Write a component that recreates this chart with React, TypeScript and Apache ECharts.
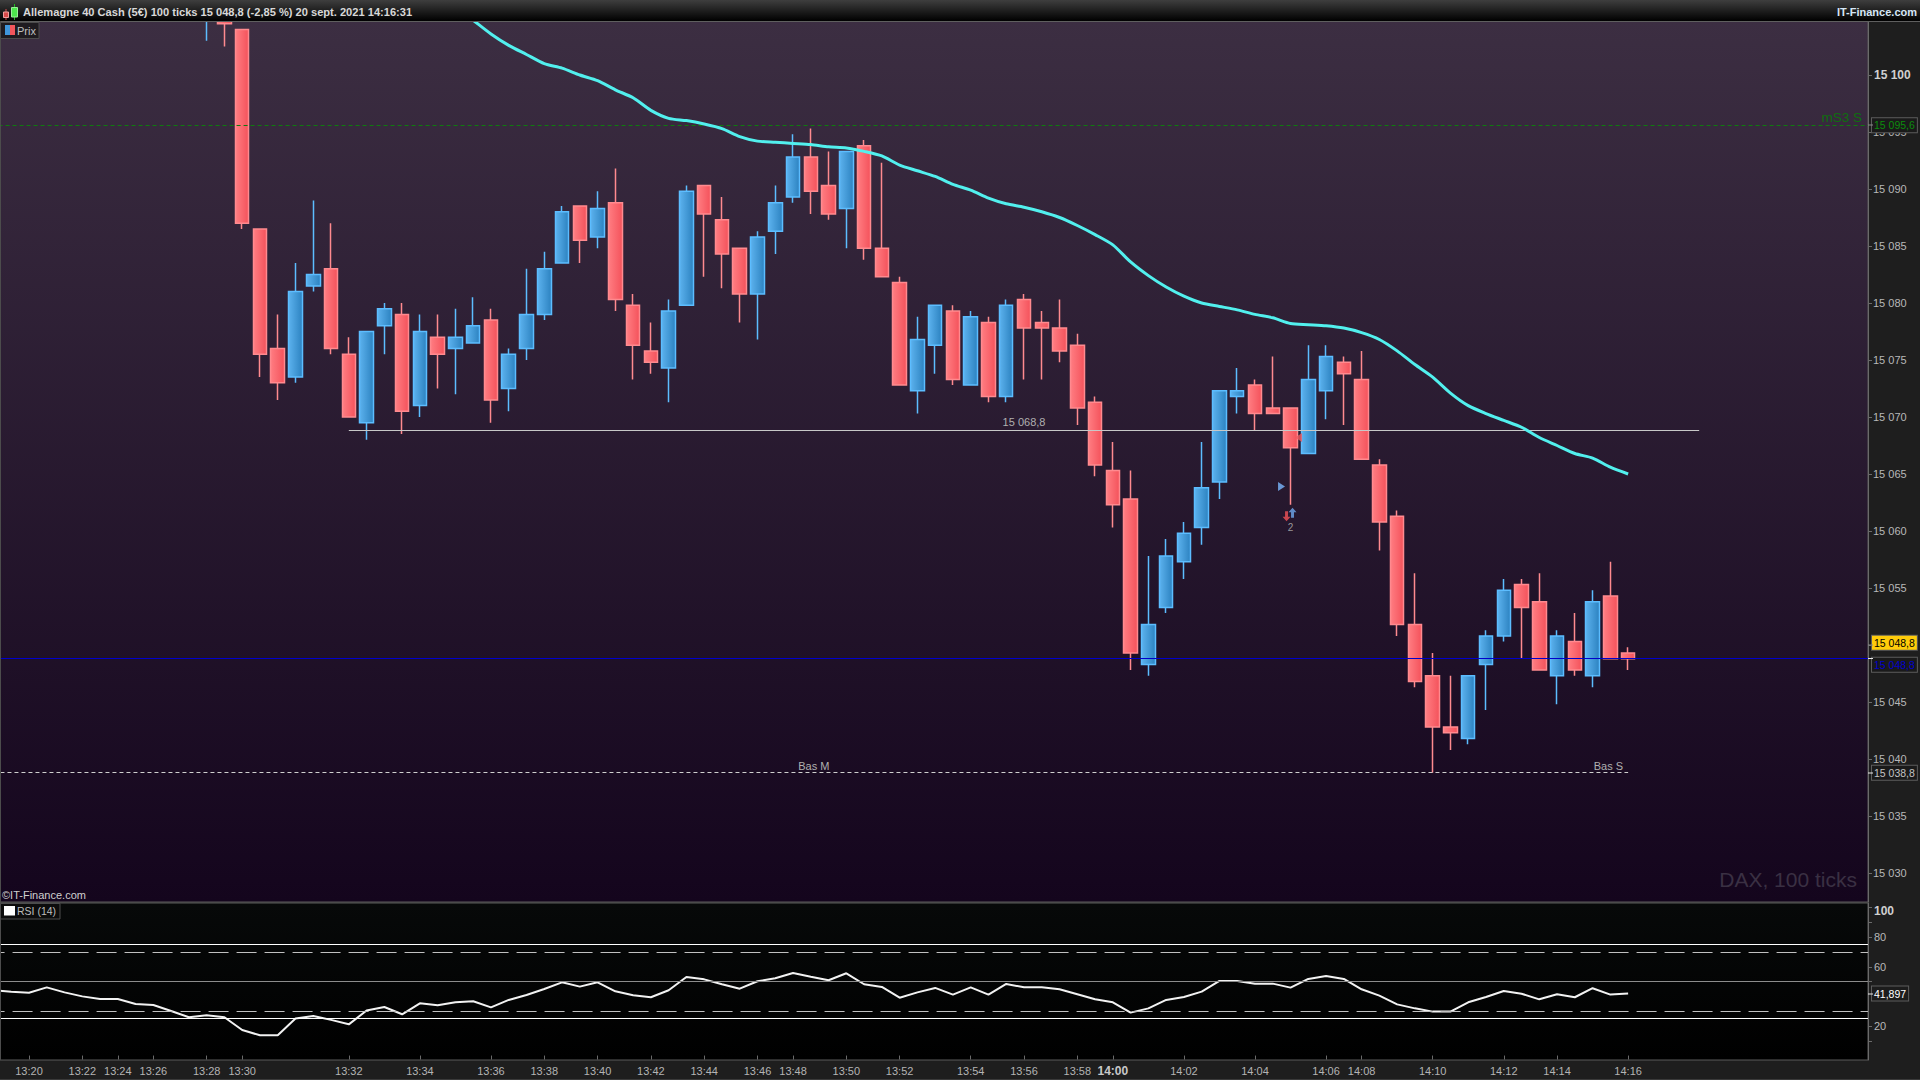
import React, { useEffect, useRef } from "react";
import * as echarts from "echarts";

const FONT = '"Liberation Sans", Arial, sans-serif';
const CATEGORY_COUNT = 106;
const FIRST_CANDLE_SLOT = 12;
const CLEAR = "rgba(0,0,0,0)";

const tickSlots = [2, 5, 7, 9, 12, 14, 20, 24, 28, 31, 34, 37, 40, 43, 45, 48, 51, 55, 58, 61, 63, 67, 71, 75, 77, 81, 85, 88, 92];
const tickLabels = ["13:20", "13:22", "13:24", "13:26", "13:28", "13:30", "13:32", "13:34", "13:36", "13:38", "13:40", "13:42", "13:44", "13:46", "13:48", "13:50", "13:52", "13:54", "13:56", "13:58", "14:00", "14:02", "14:04", "14:06", "14:08", "14:10", "14:12", "14:14", "14:16"];

const opens = [15105.5, 15105.5, 15104, 15086.5, 15076, 15073.5, 15081.5, 15083, 15075.5, 15069.5, 15078, 15079, 15071, 15077, 15076, 15076.5, 15078.5, 15072.5, 15076, 15079, 15083.5, 15088.5,
  15085.8, 15088.8, 15079.8, 15075.8, 15074.3, 15079.8, 15090.3, 15087.3, 15084.8, 15080.8, 15086.3, 15089.3, 15092.8, 15090.3, 15088.3, 15093.8, 15084.8, 15081.8, 15072.3, 15076.3, 15079.3, 15072.8, 15078.3, 15071.8, 15080.3, 15078.3, 15077.8, 15076.3, 15071.3, 15065.3, 15062.8, 15048.3, 15053.3, 15057.3, 15060.3, 15064.3, 15071.8, 15072.8, 15070.8, 15070.8, 15066.8, 15072.3, 15074.8, 15073.3, 15065.8, 15061.3, 15051.8, 15047.3, 15042.8, 15041.8, 15048.3, 15050.8, 15055.3, 15053.8, 15047.3, 15050.3, 15047.3, 15054.3, 15049.3];
const closes = [15106.5, 15104.5, 15087, 15075.5, 15073, 15081, 15082.5, 15076, 15070, 15077.5, 15079.5, 15070.5, 15077.5, 15075.5, 15077, 15078, 15071.5, 15075.5, 15079, 15083, 15088, 15085.5,
  15088.3, 15080.3, 15076.3, 15074.8, 15079.3, 15089.8, 15087.8, 15084.3, 15080.8, 15085.8, 15088.8, 15092.8, 15089.8, 15087.8, 15093.3, 15084.8, 15082.3, 15072.8, 15076.8, 15079.8, 15073.3, 15078.8, 15071.8, 15079.8, 15077.8, 15077.8, 15075.8, 15070.8, 15065.8, 15062.3, 15049.3, 15051.8, 15057.8, 15059.8, 15063.8, 15072.3, 15072.3, 15070.3, 15070.3, 15067.3, 15073.3, 15075.3, 15073.8, 15066.3, 15060.8, 15051.8, 15046.8, 15042.8, 15042.3, 15047.3, 15050.8, 15054.8, 15053.3, 15047.8, 15050.8, 15047.8, 15053.8, 15048.8, 15048.8];
const lows = [15103, 15102.5, 15086.5, 15073.5, 15071.5, 15073, 15081, 15075.5, 15070, 15068, 15075.5, 15068.5, 15070, 15072.5, 15072, 15076.5, 15069.5, 15070.5, 15075, 15078.5, 15083.5, 15083.5,
  15084.8, 15079.3, 15073.3, 15073.8, 15071.3, 15079.8, 15082.3, 15081.3, 15078.3, 15076.8, 15084.3, 15088.8, 15087.8, 15087.3, 15084.8, 15083.8, 15082.3, 15072.8, 15070.3, 15073.8, 15072.8, 15072.8, 15071.3, 15071.3, 15073.3, 15073.3, 15074.8, 15069.3, 15064.8, 15060.3, 15047.8, 15047.3, 15052.8, 15055.8, 15058.8, 15062.8, 15070.3, 15068.8, 15070.3, 15062.3, 15066.8, 15069.8, 15069.3, 15066.3, 15058.3, 15050.8, 15046.3, 15038.8, 15040.8, 15041.3, 15044.3, 15050.3, 15048.8, 15047.8, 15044.8, 15047.3, 15046.3, 15048.8, 15047.8];
const highs = [15107, 15106, 15104, 15086.5, 15079, 15083.5, 15089, 15087, 15077, 15077.5, 15080, 15080, 15079, 15079, 15079.5, 15080.5, 15079.5, 15076, 15083, 15084.5, 15088.5, 15088.5,
  15089.8, 15091.8, 15080.8, 15078.3, 15080.3, 15090.3, 15090.3, 15089.3, 15084.8, 15086.3, 15090.3, 15094.8, 15095.3, 15093.3, 15093.3, 15094.3, 15092.3, 15082.3, 15078.8, 15079.8, 15079.8, 15079.3, 15078.8, 15080.3, 15080.8, 15079.3, 15080.3, 15077.3, 15071.8, 15067.8, 15065.3, 15057.8, 15059.3, 15060.8, 15067.8, 15072.3, 15074.3, 15073.3, 15075.3, 15070.8, 15076.3, 15076.3, 15075.3, 15075.8, 15066.3, 15061.8, 15056.3, 15049.3, 15047.3, 15047.3, 15051.3, 15055.8, 15055.8, 15056.3, 15051.3, 15052.8, 15054.8, 15057.3, 15049.8];

const MA_FIRST_SLOT = 26;
const movingAverage = [15106, 15104.8, 15103.6, 15102.6, 15101.8, 15101, 15100.6, 15100, 15099.5, 15098.7, 15098, 15096.9, 15096.2, 15096, 15095.7, 15095.3, 15094.6, 15094.2, 15094.1, 15094, 15093.9, 15093.7, 15093.6, 15093.3, 15092.9, 15092.1, 15091.6, 15091.1, 15090.4, 15089.9, 15089.2, 15088.7, 15088.4, 15088, 15087.5, 15086.8, 15086, 15085.1, 15083.6, 15082.4, 15081.4, 15080.6, 15080, 15079.7, 15079.4, 15079, 15078.7, 15078.2, 15078.1, 15078, 15077.8, 15077.4, 15076.8, 15075.8, 15074.6, 15073.5, 15072.1, 15071, 15070.3, 15069.7, 15069.1, 15068.2, 15067.5, 15066.8, 15066.4, 15065.6, 15065];

const rsiValues = [44.1, 43.2, 42.5, 46.1, 42.7, 40, 38.2, 38.2, 34.9, 34.2, 30.1, 25.9, 27.2, 25.9, 17.3, 13.7, 13.7, 25, 26.8, 24.1, 21.1, 30.4, 32.8, 27.9, 35.3, 34, 36, 36.7, 32.6, 37.6, 40.9, 45, 49.5, 46.6, 49.5, 43.4, 40.7, 39.4, 44.1, 53.1, 51.5, 48.2, 45.2, 50.2, 52.2, 55.8, 53.3, 50.9, 55.6, 48.2, 46.4, 39.1, 42.7, 45.7, 41.2, 46.1, 41.2, 48.4, 46.1, 46.1, 44.8, 41.4, 38, 36, 29, 31.9, 37.6, 39.6, 43.2, 50.4, 50.4, 48.6, 48.6, 45.9, 51.8, 53.8, 51.8, 44.8, 40.5, 34.6, 31.9, 29.7, 29.7, 36, 39.6, 43.6, 41.8, 38, 41.4, 39.4, 45.5, 41.2, 41.9];

const priceTicks = [15100, 15095, 15090, 15085, 15080, 15075, 15070, 15065, 15060, 15055, 15050, 15045, 15040, 15035, 15030];
const priceLabels = [15100, 15095, 15090, 15085, 15080, 15075, 15070, 15065, 15060, 15055, 15045, 15040, 15035, 15030];
const rsiLabelTicks = [100, 80, 60, 20];
const rsiMarkTicks = [100, 90, 80, 60, 50, 20, 10];

const frPrice = (v: number) => { const s = v.toFixed(0); return s.slice(0, 2) + " " + s.slice(2); };

function pad(first: number, values: any[], blank: any) {
  const out: any[] = [];
  for (let i = 0; i < CATEGORY_COUNT; i++) {
    const j = i - first;
    out.push(j >= 0 && j < values.length ? values[j] : blank);
  }
  return out;
}

function boxLabel(text: string, color: string, bg: string, offset: number[] = [0, 0]) {
  return {
    show: true, position: "end", distance: 4, formatter: text, color, fontFamily: FONT, fontSize: 10.5,
    backgroundColor: bg, borderColor: "#5c5c5c", borderWidth: 1, padding: [2, 2, 1, 2], offset,
  };
}

const hGrad = (a: string, b: string) => new echarts.graphic.LinearGradient(0, 0, 1, 0, [{ offset: 0, color: a }, { offset: 1, color: b }]);
const vGrad = (a: string, b: string) => new echarts.graphic.LinearGradient(0, 0, 0, 1, [{ offset: 0, color: a }, { offset: 1, color: b }]);

function text(x: number, y: number, str: string, fill: string, size: number, extra: any = {}) {
  return {
    type: "text", x, y, silent: true, z: 20,
    style: { text: str, fill, fontFamily: FONT, fontSize: size, verticalAlign: "middle", ...extra },
  };
}
function rect(x: number, y: number, w: number, h: number, fill: any, stroke?: string) {
  return { type: "rect", silent: true, z: 19, shape: { x, y, width: w, height: h }, style: { fill, stroke: stroke || undefined, lineWidth: 1 } };
}
function tick(y: number, color: string) {
  return { type: "line", silent: true, z: 19, shape: { x1: 1868, y1: y, x2: 1873, y2: y }, style: { stroke: color, lineWidth: 1 } };
}

export default function App() {
  const ref = useRef<HTMLDivElement>(null);
  useEffect(() => {
    document.body.style.margin = "0";
    document.body.style.background = "#1e1e1e";
    const chart = echarts.init(ref.current!, undefined, { renderer: "svg" });

    const categories = new Array(CATEGORY_COUNT).fill("");
    tickSlots.forEach((s, i) => (categories[s] = tickLabels[i]));

    const candleValues = opens.map((o, i) => [o, closes[i], lows[i], highs[i]]);
    const candleData = pad(FIRST_CANDLE_SLOT, candleValues, ["-", "-", "-", "-"]);
    const tradeCat = 73;

    const option: any = {
      animation: false,
      backgroundColor: "#1e1e1e",
      textStyle: { fontFamily: FONT },
      grid: [
        { left: -15.43, top: 21, width: 1883.43, height: 881, outerBoundsMode: "none", show: true, borderColor: "#5a5a5a", borderWidth: 1, backgroundColor: vGrad("#3c2e42", "#14051d") },
        { left: -15.43, top: 903, width: 1883.43, height: 157, outerBoundsMode: "none", show: true, borderColor: "#5a5a5a", borderWidth: 1, backgroundColor: vGrad("#070909", "#000000") },
      ],
      xAxis: [
        { type: "category", gridIndex: 0, data: categories, boundaryGap: true, show: false },
        {
          type: "category", gridIndex: 1, data: categories, boundaryGap: true,
          axisLine: { show: false },
          axisTick: { show: true, alignWithLabel: true, length: 4, lineStyle: { color: "#6a6a6a" }, interval: (_i: number, v: string) => v !== "" },
          axisLabel: {
            interval: (_i: number, v: string) => v !== "", margin: 5, color: "#b4b4b4", fontFamily: FONT, fontSize: 11, hideOverlap: false,
            formatter: (v: string) => (v === "14:00" ? "{b|14:00}" : v),
            rich: { b: { fontFamily: FONT, fontSize: 12, fontWeight: "bold", color: "#c8c8c8" } },
          },
          splitLine: { show: false },
        },
      ],
      yAxis: [
        {
          type: "value", gridIndex: 0, position: "right", min: 15027.456, max: 15104.737, scale: true,
          axisLine: { show: true, lineStyle: { color: "#6a6a6a", width: 1 } },
          axisTick: { show: true, length: 4, lineStyle: { color: "#6a6a6a" }, customValues: priceTicks },
          axisLabel: {
            show: true, margin: 5, color: "#b8b8b8", fontFamily: FONT, fontSize: 11, customValues: priceLabels,
            formatter: (v: number) => (v === 15100 ? "{b|" + frPrice(v) + "}" : frPrice(v)),
            rich: { b: { fontFamily: FONT, fontSize: 12, fontWeight: "bold", color: "#d0d0d0", padding: [0, 0, 0, 1] } },
          },
          splitLine: { show: false },
        },
        {
          type: "value", gridIndex: 1, position: "right", min: -3, max: 103.1,
          axisLine: { show: true, lineStyle: { color: "#6a6a6a", width: 1 } },
          axisTick: { show: true, length: 4, lineStyle: { color: "#6a6a6a" }, customValues: rsiMarkTicks },
          axisLabel: {
            show: true, margin: 6, color: "#b8b8b8", fontFamily: FONT, fontSize: 11, customValues: rsiLabelTicks,
            formatter: (v: number) => (v === 100 ? "{b|100}" : String(v)),
            rich: { b: { fontFamily: FONT, fontSize: 12, fontWeight: "bold", color: "#d0d0d0", padding: [6, 0, 0, 0] } },
          },
          splitLine: { show: false },
        },
      ],
      series: [
        {
          type: "candlestick", xAxisIndex: 0, yAxisIndex: 0, data: candleData, barWidth: 14,
          itemStyle: {
            color: hGrad("#5cb2ee", "#2c82c0"), color0: hGrad("#ff7d82", "#f4525b"),
            borderColor: "#5cbdff", borderColor0: "#ff8a8f", borderWidth: 1.5,
          },
          markLine: {
            silent: true, symbol: "none", animation: false, z: 5,
            data: [
              { yAxis: 15095.6, lineStyle: { color: "#0f7a0f", type: [4, 3], width: 1 }, label: boxLabel("15 095,6", "#0c8c0c", "#1a1a1a") },
              { yAxis: 15048.8, lineStyle: { color: "#0000cc", type: "solid", width: 1 }, label: boxLabel("15 048,8", "#0000cc", "#1a1a1a", [0, 6]) },
              { yAxis: 15048.8, lineStyle: { color: CLEAR, width: 1 }, label: boxLabel("15 048,8", "#000000", "#ffcc0a", [0, -16]) },
              [
                { xAxis: 20, yAxis: 15068.8, lineStyle: { color: "#c8c8c8", type: "solid", width: 1 }, label: { show: true, position: "middle", distance: 3, formatter: "15 068,8", color: "#b0b0b0", fontFamily: FONT, fontSize: 11 } },
                { xAxis: 96, yAxis: 15068.8 },
              ],
              [
                { xAxis: 0, yAxis: 15038.8, lineStyle: { color: "#cfcfcf", type: [4, 3], width: 1 }, label: { show: true, position: "middle", distance: 1, offset: [3, 0], formatter: "Bas M", color: "#b0b0b0", fontFamily: FONT, fontSize: 11 } },
                { xAxis: 92, yAxis: 15038.8 },
              ],
              [
                { xAxis: 86, yAxis: 15038.8, lineStyle: { color: CLEAR, width: 1 }, label: { show: true, position: "insideEndTop", distance: 1, offset: [-4, 0], formatter: "Bas S", color: "#b0b0b0", fontFamily: FONT, fontSize: 11 } },
                { xAxis: 92, yAxis: 15038.8 },
              ],
              { yAxis: 15038.8, lineStyle: { color: CLEAR, width: 1 }, label: boxLabel("15 038,8", "#c4c4c4", "#1a1a1a") },
            ],
          },
        },
        {
          type: "line", xAxisIndex: 0, yAxisIndex: 0, z: 6, data: pad(MA_FIRST_SLOT, movingAverage, null),
          showSymbol: false, smooth: 0.25, connectNulls: false, lineStyle: { color: "#52f0ee", width: 3 },
        },
        {
          type: "scatter", xAxisIndex: 0, yAxisIndex: 0, z: 7, silent: true,
          data: [
            { value: [tradeCat, 15063.9], symbol: "triangle", symbolSize: [9, 7], symbolRotate: -90, symbolOffset: [-9, 0], itemStyle: { color: "#7ab8ff" } },
            { value: [tradeCat, 15068.2], symbol: "triangle", symbolSize: [9, 7], symbolRotate: 90, symbolOffset: [8, 0], itemStyle: { color: "#f05a60" } },
            { value: [tradeCat, 15061.3], symbol: "path://M2.2 0 L4.8 0 L4.8 6 L7 6 L3.5 11 L0 6 L2.2 6 Z", symbolSize: [8, 10], symbolOffset: [-4, 0], itemStyle: { color: "#f25258" } },
            { value: [tradeCat, 15061.6], symbol: "path://M3.5 0 L7 5 L4.8 5 L4.8 11 L2.2 11 L2.2 5 L0 5 Z", symbolSize: [8, 10], symbolOffset: [2, 0], itemStyle: { color: "#6fa9ee" } },
            { value: [tradeCat, 15060.3], symbol: "circle", symbolSize: 1, label: { show: true, position: "inside", formatter: "2", color: "#b8b8b8", fontFamily: FONT, fontSize: 10 }, itemStyle: { color: CLEAR } },
          ],
        },
        {
          type: "line", xAxisIndex: 1, yAxisIndex: 1, data: pad(0, rsiValues, null),
          showSymbol: false, lineStyle: { color: "#f2f2f2", width: 2 },
          markLine: {
            silent: true, symbol: "none", animation: false,
            data: [
              { yAxis: 75, lineStyle: { color: "#ffffff", type: "solid", width: 1 }, label: { show: false } },
              { yAxis: 70, lineStyle: { color: "#c0c0c0", type: [20, 8], width: 1 }, label: { show: false } },
              { yAxis: 50, lineStyle: { color: "#8c8c8c", type: "solid", width: 1 }, label: { show: false } },
              { yAxis: 30, lineStyle: { color: "#c0c0c0", type: [20, 8], width: 1 }, label: { show: false } },
              { yAxis: 25, lineStyle: { color: "#ffffff", type: "solid", width: 1 }, label: { show: false } },
              { yAxis: 41.897, lineStyle: { color: CLEAR, width: 1 }, label: boxLabel("41,897", "#ffffff", "#1c1c1c") },
            ],
          },
        },
      ],
      graphic: [
        rect(0, 0, 1920, 21, vGrad("#3e3e3e", "#000000")),
        { type: "line", silent: true, z: 19, shape: { x1: 0, y1: 21.5, x2: 1920, y2: 21.5 }, style: { stroke: "#5f5f5f", lineWidth: 1 } },
        { type: "line", silent: true, z: 19, shape: { x1: 0.5, y1: 21, x2: 0.5, y2: 1060 }, style: { stroke: "#4c4c4c", lineWidth: 1 } },
        { type: "line", silent: true, z: 19, shape: { x1: 6, y1: 9, x2: 6, y2: 20 }, style: { stroke: "#d84a4a", lineWidth: 1 } },
        rect(3.5, 12, 5, 5.5, "#d84a4a", "#f0a0a0"),
        { type: "line", silent: true, z: 19, shape: { x1: 14.5, y1: 4, x2: 14.5, y2: 20 }, style: { stroke: "#1fb81f", lineWidth: 1 } },
        rect(11.5, 7.5, 6, 9.5, "#4ce64c", "#9af09a"),
        text(23, 11.5, "Allemagne 40 Cash (5€) 100 ticks 15 048,8 (-2,85 %) 20 sept. 2021 14:16:31", "#d8d8d8", 11.1, { fontWeight: "bold" }),
        text(1917, 12, "IT-Finance.com", "#d6e6f6", 11, { fontWeight: "bold", align: "right" }),
        rect(0.5, 22.5, 38.5, 16, "#1e1b20", "#4c4c4c"),
        rect(5, 25, 5, 10, "#3f97dc"),
        rect(10, 25, 5, 10, "#f2565c"),
        text(17, 30.5, "Prix", "#c0c0c0", 11),
        text(1862, 117, "mS3 S", "#0f6e0f", 13.5, { align: "right" }),
        text(1857, 879, "DAX, 100 ticks", "#3a3043", 21, { align: "right" }),
        text(2, 895, "©IT-Finance.com", "#cfcfcf", 11),
        rect(0.5, 903.5, 59.5, 15.5, "#0c0c0c", "#4c4c4c"),
        rect(4, 906, 11, 9.5, "#ffffff"),
        text(17, 911, "RSI (14)", "#bcbcbc", 10.5),
        tick(125, "#8a8a8a"),
        tick(645, "#8a8a8a"),
        tick(658.5, "#e8e8e8"),
        tick(773, "#e8e8e8"),
        tick(994, "#e8e8e8"),
        { type: "line", silent: true, z: 19, shape: { x1: 0, y1: 1079.5, x2: 1920, y2: 1079.5 }, style: { stroke: "#3a3a3a", lineWidth: 1 } },
      ],
    };
    chart.setOption(option);
    return () => chart.dispose();
  }, []);
  return <div ref={ref} style={{ position: "fixed", left: 0, top: 0, width: 1920, height: 1080 }} />;
}
